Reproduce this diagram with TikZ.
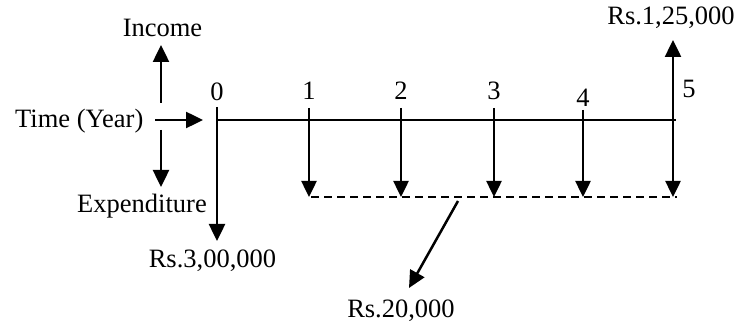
\documentclass[tikz,border=0pt]{standalone}
\usepackage{fontspec}
\setmainfont{Liberation Serif}
\usetikzlibrary{arrows.meta}
\begin{document}
\begin{tikzpicture}[x=1pt,y=-1pt,
  lbl/.style={inner sep=0pt, anchor=base, font=\fontsize{26.5}{30}\selectfont},
  head/.style={Triangle[width=16pt,length=17pt]},
  flow/.style={line width=2.5pt, -{Triangle[width=16pt,length=17pt]}},
  cash/.style={line width=2.5pt, -{Triangle[width=15pt,length=16pt]}},
  axis/.style={line width=1.3pt},
  dashline/.style={line width=2.2pt, dash pattern=on 8pt off 5pt}]
\useasboundingbox (0,0) rectangle (741,328);

% legend: direction of income, time and expenditure
\node[lbl] (income) at (162.5,37) {Income};
\node[lbl, anchor=base west] (time) at (15,128) {Time (Year)};
\node[lbl] (expend) at (142,213) {Expenditure};
\coordinate (incTail) at (161,103);
\coordinate (incTip) at (161,45);
\coordinate (timeTail) at (155,120);
\coordinate (timeTip) at (203,120);
\coordinate (expTail) at (161,130);
\coordinate (expTip) at (161,187);
\draw[flow] (incTail) -- (incTip);
\draw[flow] (timeTail) -- (timeTip);
\draw[flow] (expTail) -- (expTip);

% time line with year marks
\coordinate (t0) at (217,120);
\coordinate (t5) at (676,120);
\draw[axis] (t0) -- (t5);

\node[lbl] (y0) at (217,101) {0};
\node[lbl] (y1) at (309,100) {1};
\node[lbl] (y2) at (401,100) {2};
\node[lbl] (y3) at (494,100) {3};
\node[lbl] (y4) at (583,107) {4};
\node[lbl] (y5) at (689,98) {5};

% initial outlay
\coordinate (a0) at (217,107);
\coordinate (b0) at (217,241);
\draw[flow] (a0) -- (b0);
\node[lbl] (outlay) at (212.5,268) {Rs.3,00,000};

% yearly expenditure
\foreach \i/\x/\s in {1/309/108, 2/401/108, 3/494/108, 4/583/110}{
  \coordinate (a\i) at (\x,\s);
  \coordinate (b\i) at (\x,197);
  \draw[cash] (a\i) -- (b\i);
}

% year 5: salvage income up, expenditure down
\coordinate (top5) at (673,40);
\coordinate (b5) at (673,197);
\draw[line width=2.5pt, {Triangle[width=16pt,length=17pt]}-{Triangle[width=15pt,length=16pt]}] (top5) -- (b5);
\node[lbl] (salvage) at (671,25) {Rs.1,25,000};

% dashed bracket over the annual amounts
\coordinate (dL) at (311,197);
\coordinate (dR) at (677,197);
\draw[dashline] (dL) -- (dR);
\coordinate (dm) at (458,201);
\node[lbl] (annual) at (401,318) {Rs.20,000};
\coordinate (annTip) at (409,288);
\draw[flow] (dm) -- (annTip);
\end{tikzpicture}
\end{document}
